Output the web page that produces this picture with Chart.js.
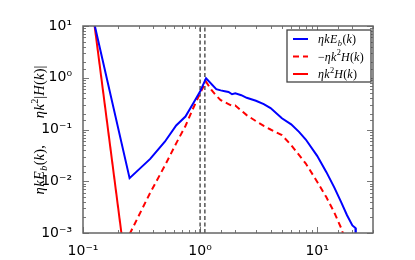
<!DOCTYPE html>
<html>
<head>
<meta charset="utf-8">
<script src="https://cdn.jsdelivr.net/npm/chart.js@4.4.1/dist/chart.umd.min.js"></script>
<style>body{margin:0;background:#fff}</style>
</head>
<body>
<canvas id="myChart" width="415" height="260"></canvas>
<script>
var ctx = document.getElementById('myChart');

// eta k E_b(k)
const kBlue = [0.125, 0.25, 0.375, 0.5, 0.625, 0.75, 0.875, 1.0, 1.125, 1.375, 1.5, 1.625, 1.75, 1.875, 2.0, 2.25, 2.5, 3.0, 3.5, 4.0, 5.0, 6.0, 7.0, 8.0, 10, 12, 14, 16, 18, 20, 21.25, 21.4];
const blueVals = [11, 0.0115, 0.027, 0.058, 0.12, 0.178, 0.32, 0.54, 0.98, 0.60, 0.57, 0.55, 0.53, 0.48, 0.50, 0.46, 0.41, 0.36, 0.31, 0.26, 0.165, 0.126, 0.09, 0.064, 0.031, 0.015, 0.0076, 0.004, 0.0022, 0.0014, 0.00125, 0.0004];

// -eta k^2 H(k)
const kDash = [0.25, 0.375, 0.5, 0.625, 0.75, 0.875, 1.0, 1.125, 1.25, 1.375, 1.5, 1.75, 1.875, 2.0, 2.5, 3.0, 3.5, 4.0, 5.0, 6.0, 8.0, 10, 12, 14, 16, 17.5];
const dashVals = [0.00095, 0.006, 0.02, 0.054, 0.117, 0.26, 0.50, 0.84, 0.58, 0.45, 0.37, 0.31, 0.285, 0.29, 0.19, 0.145, 0.118, 0.10, 0.078, 0.05, 0.022, 0.0098, 0.0049, 0.0025, 0.00126, 0.0007];

// eta k^2 H(k) (positive part)
const kSolid = [0.125, 0.25];
const solidVals = [11, 0.00006];

const vLines = [1.0, 1.1];

const xTickVals = [0.1, 1, 10];
const xTickLabels = ['10⁻¹', '10⁰', '10¹'];
const yTickVals = [0.001, 0.01, 0.1, 1, 10];
const yTickLabels = ['10⁻³', '10⁻²', '10⁻¹', '10⁰', '10¹'];

const legendLabels = ['ηkE_b(k)', '−ηk^2H(k)', 'ηk^2H(k)'];
const yTitle = ['ηkE_b(k),', 'ηk^2|H(k)|'];

function toPoints(xs, ys){
    return xs.map(function(x, i){ return {x: x, y: ys[i]} });
}

function findTick(vals, v){
    return vals.findIndex(function(t){ return Math.abs(t - v) < t * 1e-6 });
}

// draws simple math text: _x subscript, ^x superscript, letters italic
function drawRich(c, str, x, y, size, measureOnly){
    let w = 0;
    for (let i = 0; i < str.length; i++){
        let ch = str[i];
        let mode = '';
        if ((ch == '_' || ch == '^') && i + 1 < str.length){
            mode = ch;
            i++;
            ch = str[i];
        }
        let upright = '()|,−0123456789'.includes(ch);
        let s = mode ? size * 0.7 : size;
        c.font = (upright ? '' : 'italic ') + s + 'px "Liberation Serif"';
        let dy = mode == '_' ? size * 0.22 : (mode == '^' ? -size * 0.42 : 0);
        if (!measureOnly) c.fillText(ch, x + w, y + dy);
        w += c.measureText(ch).width + (upright ? 0 : 0.4);
    }
    return w;
}

const frameTicks = {
    id: 'frameTicks',
    afterDraw: function(chart){
        const c = chart.ctx;
        const a = chart.chartArea;
        c.save();
        c.strokeStyle = '#555';
        c.lineWidth = 0.8;
        // inward ticks on all four sides
        const xs = chart.scales.x, ys = chart.scales.y;
        xs.ticks.forEach(function(t){
            let px = Math.round(xs.getPixelForValue(t.value)) + 0.5;
            let len = findTick(xTickVals, t.value) >= 0 ? 6 : 3;
            c.beginPath();
            c.moveTo(px, a.bottom); c.lineTo(px, a.bottom - len);
            c.moveTo(px, a.top); c.lineTo(px, a.top + len);
            c.stroke();
        });
        ys.ticks.forEach(function(t){
            let py = Math.round(ys.getPixelForValue(t.value)) + 0.5;
            let len = findTick(yTickVals, t.value) >= 0 ? 6 : 3;
            c.beginPath();
            c.moveTo(a.left, py); c.lineTo(a.left + len, py);
            c.moveTo(a.right, py); c.lineTo(a.right - len, py);
            c.stroke();
        });
        c.lineWidth = 1.5;
        c.strokeStyle = '#666';
        c.strokeRect(a.left, a.top, a.right - a.left, a.bottom - a.top);

        // y axis title
        c.fillStyle = '#000';
        c.textBaseline = 'alphabetic';
        c.translate(44, (a.top + a.bottom) / 2 + 0.5);
        c.rotate(-Math.PI / 2);
        const gap = 27;
        let w1 = drawRich(c, yTitle[0], 0, 0, 14.5, true);
        let w2 = drawRich(c, yTitle[1], 0, 0, 14.5, true);
        let x0 = -(w1 + gap + w2) / 2;
        drawRich(c, yTitle[0], x0, 0, 14.5);
        drawRich(c, yTitle[1], x0 + w1 + gap, 0, 14.5);
        c.restore();

        // legend
        c.save();
        c.fillStyle = '#fff';
        c.fillRect(287, 30, 84, 52);
        c.strokeStyle = '#444';
        c.lineWidth = 1.3;
        c.strokeRect(287, 30, 84, 52);
        const ds = chart.data.datasets;
        for (let i = 0; i < legendLabels.length; i++){
            let d = ds[i];
            let ry = 39 + i * 17.5;
            c.strokeStyle = d.borderColor;
            c.lineWidth = d.borderWidth;
            c.setLineDash(d.borderDash || []);
            c.beginPath();
            c.moveTo(293, ry); c.lineTo(308, ry);
            c.stroke();
            c.setLineDash([]);
            c.fillStyle = '#000';
            c.textBaseline = 'alphabetic';
            drawRich(c, legendLabels[i], 318, ry + 4, 12);
        }
        c.restore();
    }
};

var datasets = [
    {data: toPoints(kBlue, blueVals), borderColor: '#0000ff', borderWidth: 2},
    {data: toPoints(kDash, dashVals), borderColor: '#ff0000', borderWidth: 2, borderDash: [6, 4]},
    {data: toPoints(kSolid, solidVals), borderColor: '#ff0000', borderWidth: 2}
];
vLines.forEach(function(v){
    datasets.push({data: [{x: v, y: yTickVals[0]}, {x: v, y: yTickVals[yTickVals.length - 1]}],
        borderColor: '#000', borderWidth: 1, borderDash: [4, 2.5]});
});
datasets.forEach(function(d){
    d.showLine = true;
    d.pointRadius = 0;
    d.borderCapStyle = 'butt';
});

var chart = new Chart(ctx, {
    type: 'scatter',
    data: {datasets: datasets},
    options: {
        responsive: false,
        animation: false,
        layout: {padding: {left: 0, right: 42, top: 26, bottom: 0}},
        plugins: {legend: {display: false}, tooltip: {enabled: false}},
        scales: {
            x: {
                type: 'logarithmic', min: 0.1, max: 30,
                grid: {display: false}, border: {display: false},
                ticks: {
                    autoSkip: false, maxRotation: 0, padding: 2, color: '#000',
                    font: {family: 'DejaVu Sans', size: 14},
                    callback: function(v){ let i = findTick(xTickVals, v); return i < 0 ? '' : xTickLabels[i]; }
                },
                afterFit: function(s){ s.height = 27; }
            },
            y: {
                type: 'logarithmic', min: 0.001, max: 10,
                grid: {display: false}, border: {display: false},
                ticks: {
                    autoSkip: false, padding: 3, color: '#000',
                    font: {family: 'DejaVu Sans', size: 14},
                    callback: function(v){ let i = findTick(yTickVals, v); return i < 0 ? '' : yTickLabels[i]; }
                },
                afterFit: function(s){ s.width = 83; }
            }
        }
    },
    plugins: [frameTicks]
});
</script>
</body>
</html>
